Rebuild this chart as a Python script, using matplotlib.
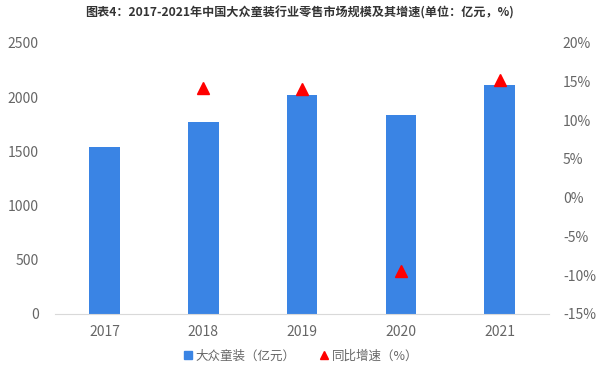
import matplotlib
matplotlib.use("Agg")
import matplotlib.pyplot as plt
from matplotlib.lines import Line2D
import numpy as np

plt.rcParams['font.family'] = ['Noto Sans CJK SC', 'DejaVu Sans']

years = ["2017", "2018", "2019", "2020", "2021"]
market_size = [1540, 1770, 2020, 1830, 2110]
growth = [np.nan, 14.2, 14.1, -9.5, 15.2]
left_ticks = [0, 500, 1000, 1500, 2000, 2500]
right_ticks = [-15, -10, -5, 0, 5, 10, 15, 20]

title = "图表4：2017-2021年中国大众童装行业零售市场规模及其增速(单位：亿元，%)"
bar_label = "大众童装（亿元）"
growth_label = "同比增速（%）"

bar_color = "#3A84E4"
tri_color = "#FF0000"
tick_color = "#666666"

fig = plt.figure(figsize=(6, 3.79), dpi=100)
ax = fig.add_axes([0.092, 0.172, 0.823, 0.715])
x = np.arange(len(years))
ax.bar(x, market_size, width=0.31, color=bar_color, zorder=2)
ax.set_xlim(-0.5, len(years) - 0.5)
ax.set_ylim(0, 2500)
ax.set_yticks(left_ticks)
ax.set_xticks(x)
ax.set_xticklabels(years)
for s in ["top", "right", "left"]:
    ax.spines[s].set_visible(False)
ax.spines["bottom"].set_color("#D9D9D9")
ax.tick_params(axis="both", length=0, colors=tick_color, labelsize=10)
ax.tick_params(axis="y", pad=12)
ax.tick_params(axis="x", pad=8)

ax2 = ax.twinx()
ax2.plot(x, growth, linestyle="none", marker="^", markersize=8, color=tri_color, zorder=3)
ax2.set_ylim(-15, 20)
ax2.set_yticks(right_ticks)
ax2.set_yticklabels([f"{t}%" for t in right_ticks])
for s in ["top", "right", "left", "bottom"]:
    ax2.spines[s].set_visible(False)
ax2.tick_params(axis="y", length=0, colors=tick_color, labelsize=10, pad=10)

fig.text(0.5, 0.965, title, ha="center", va="center", fontsize=8.7, fontweight="bold", color="#333333")

handles = [
    Line2D([], [], linestyle="none", marker="s", markersize=5.5, color=bar_color),
    Line2D([], [], linestyle="none", marker="^", markersize=5.5, color=tri_color),
]
fig.legend(handles, [bar_label, growth_label], loc="center", bbox_to_anchor=(0.5, 0.06),
           ncol=2, frameon=False, fontsize=9, labelcolor=tick_color,
           handletextpad=0.1, columnspacing=1.8, handlelength=1.0)

fig.savefig("out.png", dpi=100)
